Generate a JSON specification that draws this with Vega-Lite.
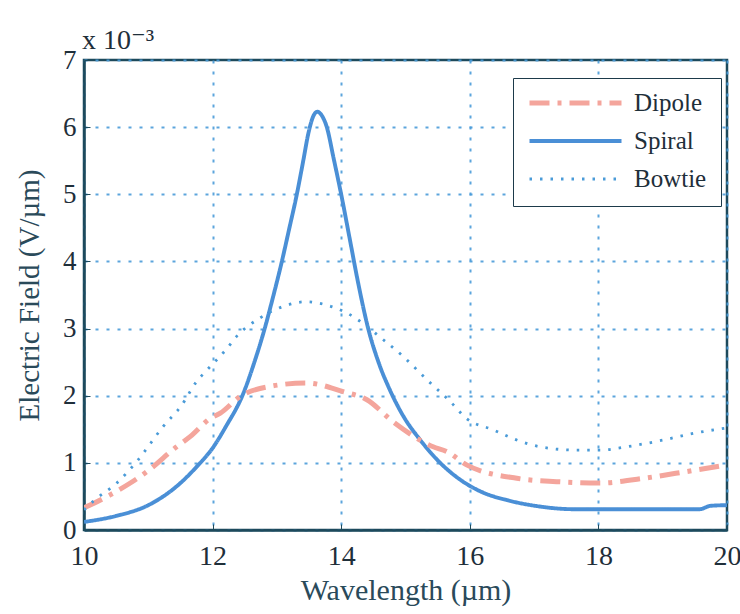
{
  "$schema": "https://vega.github.io/schema/vega-lite/v6.json",
  "width": 643,
  "height": 470,
  "autosize": {"type": "none"},
  "padding": {"left": 84, "top": 60, "right": 13, "bottom": 84},
  "background": "white",
  "title": {"text": "x 10⁻³", "anchor": "start", "frame": "group", "offset": 6, "dy": 15, "fontSize": 28, "font": "Liberation Serif, DejaVu Serif, serif", "fontWeight": "normal", "color": "#1f2f3a", "dx": -2},
  "config": {
    "view": {"stroke": "#1d4a5c", "strokeWidth": 2.5},
    "font": "Liberation Serif, DejaVu Serif, serif",
    "legend": {"labelFont": "Liberation Serif, DejaVu Serif, serif", "labelFontSize": 25, "labelColor": "#1f2f3a"}
  },
  "data": {"values": [
    {"s": "Spiral", "x": 10.0, "y": 0.12},
    {"s": "Spiral", "x": 10.5, "y": 0.21},
    {"s": "Spiral", "x": 11.0, "y": 0.37},
    {"s": "Spiral", "x": 11.5, "y": 0.70},
    {"s": "Spiral", "x": 11.75, "y": 0.94},
    {"s": "Spiral", "x": 12.0, "y": 1.22},
    {"s": "Spiral", "x": 12.2, "y": 1.53},
    {"s": "Spiral", "x": 12.48, "y": 2.04},
    {"s": "Spiral", "x": 12.65, "y": 2.5},
    {"s": "Spiral", "x": 12.81, "y": 3.0},
    {"s": "Spiral", "x": 12.94, "y": 3.47},
    {"s": "Spiral", "x": 13.07, "y": 3.97},
    {"s": "Spiral", "x": 13.19, "y": 4.48},
    {"s": "Spiral", "x": 13.31, "y": 5.0},
    {"s": "Spiral", "x": 13.41, "y": 5.5},
    {"s": "Spiral", "x": 13.49, "y": 5.91},
    {"s": "Spiral", "x": 13.56, "y": 6.15},
    {"s": "Spiral", "x": 13.63, "y": 6.23},
    {"s": "Spiral", "x": 13.7, "y": 6.17},
    {"s": "Spiral", "x": 13.77, "y": 6.02},
    {"s": "Spiral", "x": 13.89, "y": 5.5},
    {"s": "Spiral", "x": 14.01, "y": 4.95},
    {"s": "Spiral", "x": 14.13, "y": 4.35},
    {"s": "Spiral", "x": 14.27, "y": 3.65},
    {"s": "Spiral", "x": 14.42, "y": 3.0},
    {"s": "Spiral", "x": 14.58, "y": 2.5},
    {"s": "Spiral", "x": 14.76, "y": 2.08},
    {"s": "Spiral", "x": 14.97, "y": 1.69},
    {"s": "Spiral", "x": 15.23, "y": 1.34},
    {"s": "Spiral", "x": 15.54, "y": 1.0},
    {"s": "Spiral", "x": 15.85, "y": 0.75},
    {"s": "Spiral", "x": 16.2, "y": 0.56},
    {"s": "Spiral", "x": 16.6, "y": 0.44},
    {"s": "Spiral", "x": 17.09, "y": 0.35},
    {"s": "Spiral", "x": 17.6, "y": 0.31},
    {"s": "Spiral", "x": 18.5, "y": 0.31},
    {"s": "Spiral", "x": 19.58, "y": 0.31},
    {"s": "Spiral", "x": 19.74, "y": 0.36},
    {"s": "Spiral", "x": 20.0, "y": 0.37},
    {"s": "Dipole", "x": 10.0, "y": 0.33},
    {"s": "Dipole", "x": 10.4, "y": 0.52},
    {"s": "Dipole", "x": 10.72, "y": 0.70},
    {"s": "Dipole", "x": 10.98, "y": 0.87},
    {"s": "Dipole", "x": 11.44, "y": 1.24},
    {"s": "Dipole", "x": 11.65, "y": 1.39},
    {"s": "Dipole", "x": 11.96, "y": 1.66},
    {"s": "Dipole", "x": 12.12, "y": 1.74},
    {"s": "Dipole", "x": 12.43, "y": 1.99},
    {"s": "Dipole", "x": 12.9, "y": 2.14},
    {"s": "Dipole", "x": 13.46, "y": 2.19},
    {"s": "Dipole", "x": 14.03, "y": 2.06},
    {"s": "Dipole", "x": 14.4, "y": 1.94},
    {"s": "Dipole", "x": 14.81, "y": 1.61},
    {"s": "Dipole", "x": 15.43, "y": 1.24},
    {"s": "Dipole", "x": 15.64, "y": 1.17},
    {"s": "Dipole", "x": 15.95, "y": 0.97},
    {"s": "Dipole", "x": 16.73, "y": 0.77},
    {"s": "Dipole", "x": 17.35, "y": 0.72},
    {"s": "Dipole", "x": 18.02, "y": 0.70},
    {"s": "Dipole", "x": 18.7, "y": 0.77},
    {"s": "Dipole", "x": 19.37, "y": 0.87},
    {"s": "Dipole", "x": 20.0, "y": 0.97},
    {"s": "Bowtie", "x": 10.0, "y": 0.3},
    {"s": "Bowtie", "x": 10.17, "y": 0.45},
    {"s": "Bowtie", "x": 10.51, "y": 0.7},
    {"s": "Bowtie", "x": 10.82, "y": 1.02},
    {"s": "Bowtie", "x": 11.23, "y": 1.54},
    {"s": "Bowtie", "x": 11.52, "y": 1.86},
    {"s": "Bowtie", "x": 11.75, "y": 2.21},
    {"s": "Bowtie", "x": 11.91, "y": 2.38},
    {"s": "Bowtie", "x": 12.22, "y": 2.7},
    {"s": "Bowtie", "x": 12.37, "y": 2.88},
    {"s": "Bowtie", "x": 12.74, "y": 3.16},
    {"s": "Bowtie", "x": 13.1, "y": 3.33},
    {"s": "Bowtie", "x": 13.46, "y": 3.4},
    {"s": "Bowtie", "x": 13.77, "y": 3.35},
    {"s": "Bowtie", "x": 14.09, "y": 3.23},
    {"s": "Bowtie", "x": 14.66, "y": 2.83},
    {"s": "Bowtie", "x": 14.97, "y": 2.58},
    {"s": "Bowtie", "x": 15.33, "y": 2.24},
    {"s": "Bowtie", "x": 15.69, "y": 1.92},
    {"s": "Bowtie", "x": 15.95, "y": 1.66},
    {"s": "Bowtie", "x": 16.37, "y": 1.49},
    {"s": "Bowtie", "x": 16.73, "y": 1.34},
    {"s": "Bowtie", "x": 17.09, "y": 1.24},
    {"s": "Bowtie", "x": 17.66, "y": 1.19},
    {"s": "Bowtie", "x": 18.02, "y": 1.19},
    {"s": "Bowtie", "x": 18.44, "y": 1.24},
    {"s": "Bowtie", "x": 19.01, "y": 1.34},
    {"s": "Bowtie", "x": 19.48, "y": 1.44},
    {"s": "Bowtie", "x": 20.0, "y": 1.52}
  ]},
  "mark": {"type": "line", "interpolate": "monotone", "clip": true},
  "encoding": {
    "x": {
      "field": "x", "type": "quantitative",
      "scale": {"domain": [10, 20], "nice": false},
      "axis": {
        "values": [10, 12, 14, 16, 18, 20],
        "title": "Wavelength (µm)",
        "titleFont": "Liberation Serif, DejaVu Serif, serif", "titleFontSize": 30, "titleFontWeight": "normal", "titleColor": "#2a4a5a", "titlePadding": 5,
        "labelFont": "Liberation Serif, DejaVu Serif, serif", "labelFontSize": 28, "labelColor": "#1f2f3a", "labelPadding": 18,
        "domainColor": "#1d4a5c", "domainWidth": 2.5,
        "tickSize": -6, "tickColor": "#1d4a5c",
        "grid": true, "gridColor": "#4a9bd8", "gridDash": [3, 8], "gridWidth": 2, "gridOpacity": 0.9,
        "labelFlush": false
      }
    },
    "y": {
      "field": "y", "type": "quantitative",
      "scale": {"domain": [0, 7], "nice": false},
      "axis": {
        "values": [0, 1, 2, 3, 4, 5, 6, 7],
        "title": "Electric Field (V/µm)",
        "titleFont": "Liberation Serif, DejaVu Serif, serif", "titleFontSize": 29, "titleFontWeight": "normal", "titleColor": "#2a4a5a", "titlePadding": 18,
        "labelFont": "Liberation Serif, DejaVu Serif, serif", "labelFontSize": 27, "labelColor": "#1f2f3a", "labelPadding": 14,
        "domainColor": "#1d4a5c", "domainWidth": 2.5,
        "tickSize": -6, "tickColor": "#1d4a5c",
        "grid": true, "gridColor": "#4a9bd8", "gridDash": [3, 8], "gridWidth": 2, "gridOpacity": 0.9,
        "labelFlush": false
      }
    },
    "color": {
      "field": "s", "type": "nominal",
      "scale": {"domain": ["Dipole", "Spiral", "Bowtie"], "range": ["#f4a59c", "#4a8fd6", "#4a9bd8"]},
      "legend": {
        "title": null, "orient": "none", "legendX": 429, "legendY": 18,
        "strokeColor": "#1d3a4a", "fillColor": "white", "padding": 14,
        "labelFont": "Liberation Serif, DejaVu Serif, serif", "labelFontSize": 25, "labelColor": "#1f2f3a",
        "symbolType": "stroke", "symbolSize": 8464, "symbolStrokeWidth": 3,
        "clipHeight": 22, "rowPadding": 13, "labelOffset": 10
      }
    },
    "strokeDash": {
      "field": "s", "type": "nominal",
      "scale": {"domain": ["Dipole", "Spiral", "Bowtie"], "range": [[20, 8, 4, 8], [1, 0], [2.5, 8]]},
      "legend": {
        "title": null, "orient": "none", "legendX": 429, "legendY": 18,
        "strokeColor": "#1d3a4a", "fillColor": "white", "padding": 14,
        "labelFont": "Liberation Serif, DejaVu Serif, serif", "labelFontSize": 25, "labelColor": "#1f2f3a",
        "symbolType": "stroke", "symbolSize": 8464, "symbolStrokeWidth": 3,
        "clipHeight": 22, "rowPadding": 13, "labelOffset": 10
      }
    },
    "strokeWidth": {
      "field": "s", "type": "nominal",
      "scale": {"domain": ["Dipole", "Spiral", "Bowtie"], "range": [5, 2.8, 2]},
      "legend": null
    }
  }
}
